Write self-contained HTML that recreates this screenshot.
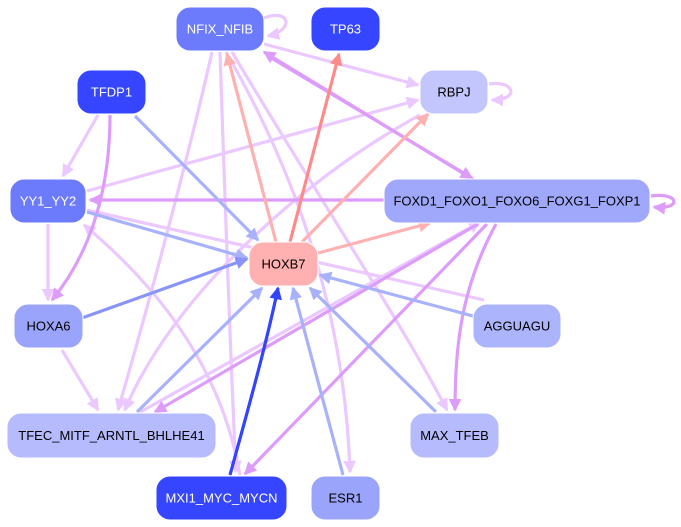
<!DOCTYPE html>
<html><head><meta charset="utf-8"><style>
html,body{margin:0;padding:0;background:#fff;}
svg{display:block;}
text{font-family:"Liberation Sans",sans-serif;font-size:13px;text-anchor:middle;dominant-baseline:central;}
</style></head><body>
<svg width="681" height="527" viewBox="0 0 681 527" xmlns="http://www.w3.org/2000/svg">
<defs>
<marker id="lv" markerWidth="4" markerHeight="4" refX="3.5" refY="2" orient="auto" markerUnits="strokeWidth"><path d="M0,0L4,2L0,4z" fill="#ebc8ff"/></marker>
<marker id="mv" markerWidth="4" markerHeight="4" refX="3.5" refY="2" orient="auto" markerUnits="strokeWidth"><path d="M0,0L4,2L0,4z" fill="#dd9cfa"/></marker>
<marker id="bl" markerWidth="4" markerHeight="4" refX="3.5" refY="2" orient="auto" markerUnits="strokeWidth"><path d="M0,0L4,2L0,4z" fill="#a8b2fc"/></marker>
<marker id="bm" markerWidth="4" markerHeight="4" refX="3.5" refY="2" orient="auto" markerUnits="strokeWidth"><path d="M0,0L4,2L0,4z" fill="#8894f8"/></marker>
<marker id="bs" markerWidth="4" markerHeight="4" refX="3.5" refY="2" orient="auto" markerUnits="strokeWidth"><path d="M0,0L4,2L0,4z" fill="#3344ff"/></marker>
<marker id="sa" markerWidth="4" markerHeight="4" refX="3.5" refY="2" orient="auto" markerUnits="strokeWidth"><path d="M0,0L4,2L0,4z" fill="#ffb0b0"/></marker>
<marker id="rd" markerWidth="4" markerHeight="4" refX="3.5" refY="2" orient="auto" markerUnits="strokeWidth"><path d="M0,0L4,2L0,4z" fill="#ff8a8a"/></marker>
</defs>
<g fill="none" stroke-width="3.2">
<g stroke="#ebc8ff" marker-end="url(#lv)">
<path d="M264,18 C290,8 295,30 268,36"/>
<path d="M489,84 C515,80 520,100 492,100"/>
<path d="M264,44 L418,85"/>
<path d="M87,191 L418,100"/>
<path d="M98,115 L63,176"/>
<path d="M48,224 L48,300"/>
<path d="M62,350 L98,410"/>
<path d="M212,52 C190,150 150,300 118,410"/>
<path d="M420,115 C300,180 170,300 125,410"/>
<path d="M220,52 C225,200 230,350 236,472"/>
<path d="M232,52 C320,200 400,320 447,410"/>
<path d="M226,52 C300,180 345,320 350,472"/>
<path d="M240,475 C220,360 150,280 84,225"/>
<path d="M135,415 L480,222"/>
</g>
<path d="M87,210 L484,300" stroke="#ebc8ff"/>
<g stroke="#dd9cfa" marker-end="url(#mv)">
<path d="M651,196 C680,192 682,210 654,207"/>
<path d="M474,180 L264,52"/>
<path d="M268,56 L472,178"/>
<path d="M384,200 L90,200"/>
<path d="M110,115 C110,200 85,260 52,300"/>
<path d="M478,224 L155,412"/>
<path d="M487,224 L245,474"/>
<path d="M496,224 C460,290 455,350 455,410"/>
</g>
<g stroke="#a8b2fc" marker-end="url(#bl)">
<path d="M135,116 L258,240"/>
<path d="M87,212 L247,258"/>
<path d="M473,316 L320,275"/>
<path d="M137,412 L262,288"/>
<path d="M343,475 L293,288"/>
<path d="M436,412 L310,288"/>
</g>
<path d="M82,318 L247,259" stroke="#8894f8" marker-end="url(#bm)"/>
<path d="M230,475 C245,420 265,350 278,288" stroke="#3344ff" marker-end="url(#bs)"/>
<g stroke="#ffb0b0" marker-end="url(#sa)">
<path d="M276,242 L227,54"/>
<path d="M302,242 L428,114"/>
<path d="M318,253 L430,223"/>
</g>
<path d="M290,242 L339,54" stroke="#ff8a8a" marker-end="url(#rd)"/>
</g>
<g stroke="#fff" stroke-width="1">
<rect x="176" y="7" width="88" height="44" rx="14" fill="#6b7bfb"/>
<rect x="311" y="7" width="69" height="44" rx="14" fill="#3645ff"/>
<rect x="77" y="70" width="69" height="44" rx="14" fill="#3645ff"/>
<rect x="420" y="70" width="68" height="44" rx="14" fill="#c2c6fd"/>
<rect x="10" y="179" width="76" height="44" rx="14" fill="#6b7bfb"/>
<rect x="384" y="179" width="266" height="44" rx="14" fill="#a0a8fb"/>
<rect x="249" y="242" width="69" height="44" rx="14" fill="#ffb0b0"/>
<rect x="14" y="304" width="69" height="44" rx="14" fill="#9ba4fb"/>
<rect x="473" y="304" width="88" height="44" rx="14" fill="#acb4fc"/>
<rect x="7" y="413" width="209" height="45" rx="14" fill="#b5bbfc"/>
<rect x="410" y="413" width="89" height="45" rx="14" fill="#b5bbfc"/>
<rect x="156" y="476" width="131" height="44" rx="14" fill="#3645ff"/>
<rect x="311" y="476" width="69" height="44" rx="14" fill="#9ba4fb"/>
</g>
<g fill="#fff">
<text x="220" y="29">NFIX_NFIB</text>
<text x="345.5" y="29">TP63</text>
<text x="111.5" y="92">TFDP1</text>
<text x="48" y="201">YY1_YY2</text>
<text x="221.5" y="498">MXI1_MYC_MYCN</text>
</g>
<g fill="#000">
<text x="454" y="92">RBPJ</text>
<text x="517" y="201">FOXD1_FOXO1_FOXO6_FOXG1_FOXP1</text>
<text x="283.5" y="264">HOXB7</text>
<text x="48.5" y="326">HOXA6</text>
<text x="517" y="326">AGGUAGU</text>
<text x="111.5" y="435.5">TFEC_MITF_ARNTL_BHLHE41</text>
<text x="454.5" y="435.5">MAX_TFEB</text>
<text x="345.5" y="498">ESR1</text>
</g>
</svg>
</body></html>
